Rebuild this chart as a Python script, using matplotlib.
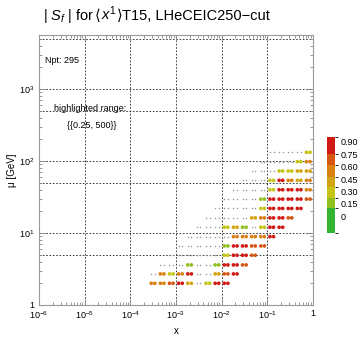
import numpy as np
import matplotlib
matplotlib.use("Agg")
import matplotlib.pyplot as plt
from matplotlib.colors import ListedColormap, BoundaryNorm
from matplotlib.cm import ScalarMappable
from matplotlib.transforms import ScaledTranslation
from matplotlib.ticker import LogLocator, NullFormatter
from matplotlib.offsetbox import TextArea, HPacker, AnnotationBbox

plt.rcParams['font.family'] = ['Liberation Sans', 'DejaVu Sans']
plt.rcParams['mathtext.fontset'] = 'custom'
plt.rcParams['mathtext.rm'] = 'Liberation Sans'
plt.rcParams['mathtext.it'] = 'Liberation Sans:italic'
plt.rcParams['mathtext.sf'] = 'Liberation Sans'

# x grid of the data points
x_grid = [3.16e-4, 5.01e-4, 7.94e-4, 1.26e-3, 2.00e-3, 3.16e-3, 5.01e-3, 7.94e-3,
          1.26e-2, 2.00e-2, 3.16e-2, 5.01e-2, 7.94e-2, 0.126, 0.200, 0.316, 0.501, 0.794]

# mu values of the rows (GeV)
mu_rows = [2.0, 2.7, 3.6, 4.9, 6.6, 8.9, 12.0, 16.2, 21.9, 29.5, 39.8, 53.7, 72.4, 97.7, 131.8]

# first x index of each row
row_first = [0, 0, 1, 2, 3, 4, 5, 6, 7, 8, 9, 10, 11, 12, 13]

# |S_f| values along each row
row_vals = [
    [0.65, 0.62, 0.88, 0.92, 0.55, 0.10, 0.40, 0.93, 0.95],
    [0.20, 0.62, 0.40, 0.65, 0.90, 0.15, 0.20, 0.45, 0.85, 0.92],
    [0.10, 0.12, 0.10, 0.28, 0.15, 0.10, 0.28, 0.90, 0.92, 0.88],
    [0.10, 0.10, 0.12, 0.10, 0.10, 0.08, 0.40, 0.92, 0.90, 0.88],
    [0.10, 0.10, 0.10, 0.12, 0.10, 0.28, 0.92, 0.90, 0.88, 0.80],
    [0.10, 0.10, 0.10, 0.10, 0.20, 0.70, 0.65, 0.72, 0.60, 0.90],
    [0.10, 0.10, 0.10, 0.40, 0.50, 0.28, 0.20, 0.35, 0.90, 0.92],
    [0.10, 0.10, 0.10, 0.10, 0.10, 0.50, 0.68, 0.90, 0.92, 0.88],
    [0.10, 0.10, 0.10, 0.10, 0.10, 0.30, 0.92, 0.90, 0.95, 0.90],
    [0.10, 0.10, 0.10, 0.10, 0.28, 0.92, 0.95, 0.90, 0.93, 0.88],
    [0.10, 0.10, 0.10, 0.10, 0.40, 0.92, 0.90, 0.95, 0.70],
    [0.10, 0.10, 0.10, 0.30, 0.90, 0.65, 0.50, 0.62],
    [0.10, 0.10, 0.10, 0.30, 0.40, 0.55, 0.45],
    [0.10, 0.10, 0.10, 0.10, 0.35, 0.60],
    [0.10, 0.10, 0.10, 0.10, 0.30],
]

highlight_min = 0.25
band_colors = ['#31b531', '#8fc01f', '#c6c417', '#d2a414', '#da7f12', '#d55512', '#d01814']
band_edges = [0.0, 0.15, 0.30, 0.45, 0.60, 0.75, 0.90, 1.0]
bar_edges = [-0.2, 0.1, 0.225, 0.35, 0.475, 0.625, 0.76, 0.96]
bar_ticks = [0, 0.15, 0.30, 0.45, 0.60, 0.75, 0.90]
bar_labels = ['0', '0.15', '0.30', '0.45', '0.60', '0.75', '0.90']

xs, ms, vs = [], [], []
for mu, first, vals in zip(mu_rows, row_first, row_vals):
    for k, v in enumerate(vals):
        xs.append(x_grid[first + k])
        ms.append(mu)
        vs.append(v)
xs = np.array(xs)
ms = np.array(ms)
vs = np.array(vs)

cmap = ListedColormap(band_colors)
norm = BoundaryNorm(band_edges, cmap.N)

fig = plt.figure(figsize=(3.6, 3.4), dpi=100)
ax = fig.add_axes([0.108, 0.103, 0.761, 0.794])
ax.set_xscale('log')
ax.set_yscale('log')
ax.set_xlim(1e-6, 1)
ax.set_ylim(1, 5600)

# grid lines
for gx in [1e-5, 1e-4, 1e-3, 1e-2, 1e-1]:
    ax.axvline(gx, color='#222222', ls=(0, (2, 2)), lw=0.6, zorder=1)
for gy in [5, 10, 50, 100, 500, 1000, 5000]:
    ax.axhline(gy, color='#222222', ls=(0, (2, 2)), lw=0.6, zorder=1)

# each point drawn as a pair of dots
hi = vs >= highlight_min
for dx in (-0.018, 0.018):
    tr = ax.transData + ScaledTranslation(dx, 0, fig.dpi_scale_trans)
    ax.scatter(xs[~hi], ms[~hi], s=1.2, color='#9a9a9a', linewidths=0, transform=tr, zorder=2)
    ax.scatter(xs[hi], ms[hi], s=7, c=vs[hi], cmap=cmap, norm=norm, linewidths=0,
               transform=tr, zorder=3)

ax.set_xticks([1e-6, 1e-5, 1e-4, 1e-3, 1e-2, 1e-1, 1])
ax.set_xticklabels(['$10^{-6}$', '$10^{-5}$', '$10^{-4}$', '$10^{-3}$', '$10^{-2}$', '$10^{-1}$', '1'])
ax.set_yticks([1, 10, 100, 1000])
ax.set_yticklabels(['1', '$10^1$', '$10^2$', '$10^3$'])
ax.xaxis.set_minor_locator(LogLocator(base=10, subs=np.arange(2, 10), numticks=20))
ax.yaxis.set_minor_locator(LogLocator(base=10, subs=np.arange(2, 10), numticks=20))
ax.xaxis.set_minor_formatter(NullFormatter())
ax.yaxis.set_minor_formatter(NullFormatter())
ax.tick_params(which='both', direction='in', top=True, right=True, color='#888888',
               labelsize=6.5, width=0.6, pad=3)
ax.tick_params(which='major', length=4)
ax.tick_params(which='minor', length=2)
for sp in ax.spines.values():
    sp.set_color('#999999')
    sp.set_linewidth(0.8)

ax.set_xlabel('x', fontsize=7, labelpad=4)
ax.set_ylabel('μ [GeV]', fontsize=7, labelpad=2)

ax.text(0.022, 0.904, 'Npt: 295', transform=ax.transAxes, fontsize=6.5, ha='left', va='center')
ax.text(0.186, 0.726, 'highlighted range:', transform=ax.transAxes, fontsize=6.5, ha='center', va='center')
ax.text(0.193, 0.663, '{{0.25, 500}}', transform=ax.transAxes, fontsize=6.5, ha='center', va='center')

# title built from pieces so the angle brackets come from DejaVu Sans
tprops = dict(fontsize=10.5)
pieces = [
    TextArea('| $S_f$ | for ', textprops=tprops),
    TextArea('⟨', textprops=dict(fontsize=10.5, family='DejaVu Sans')),
    TextArea('$x^1$', textprops=tprops),
    TextArea('⟩', textprops=dict(fontsize=10.5, family='DejaVu Sans')),
    TextArea('T15, LHeCEIC250−cut', textprops=tprops),
]
pack = HPacker(children=pieces, align='baseline', pad=0, sep=0)
title_box = AnnotationBbox(pack, (0.12, 0.958), xycoords='figure fraction', box_alignment=(0, 0.5),
                           frameon=False, pad=0, annotation_clip=False)
fig.add_artist(title_box)

# colour legend
cax = fig.add_axes([0.908, 0.315, 0.022, 0.282])
bar_norm = BoundaryNorm(bar_edges, cmap.N)
sm = ScalarMappable(norm=bar_norm, cmap=cmap)
cb = fig.colorbar(sm, cax=cax, boundaries=bar_edges, spacing='proportional', ticks=bar_ticks)
cb.set_ticklabels(bar_labels)
cb.outline.set_visible(False)
cax.tick_params(length=0, labelsize=6.5, pad=4)

fig.savefig('out.png', dpi=100)
